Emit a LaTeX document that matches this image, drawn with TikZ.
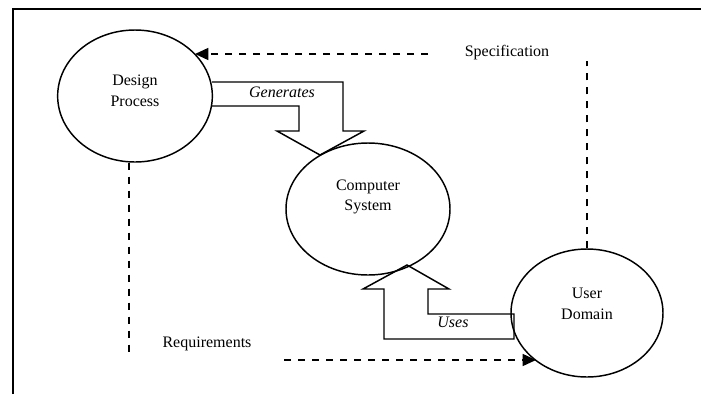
\documentclass[tikz,border=0pt]{standalone}
\usepackage{fontspec}
\setmainfont{Liberation Serif}
\usetikzlibrary{shapes.geometric,arrows.meta}
\begin{document}
\begin{tikzpicture}[x=0.75pt,y=-0.75pt,
  proc/.style={draw, ellipse, line width=1.1pt, inner sep=0pt},
  lbl/.style={align=center, font=\fontsize{12}{15.5}\selectfont, inner sep=0pt},
  tag/.style={lbl, font=\fontsize{12}{15.5}\selectfont\itshape},
  flow/.style={draw, line width=1.1pt, line join=miter},
  dep/.style={line width=1.1pt, dash pattern=on 5.5pt off 5pt},
  deparrow/.style={dep, -{Triangle[length=10pt,width=9pt]}}]
\useasboundingbox (0,0) rectangle (701,394);

% frame
\draw[line width=1.5pt] (13,394) -- (13,9) -- (701,9);

% the three domains
\node[proc, minimum width=116pt, minimum height=99pt] (design) at (135,96) {};
\node[proc, minimum width=123pt, minimum height=99pt] (computer) at (368,209) {};
\node[proc, minimum width=114pt, minimum height=96pt] (user) at (587,313) {};

\node[lbl] (designtxt) at (135,91) {Design\\Process};
\node[lbl] (computertxt) at (368,197) {Computer\\System};
\node[lbl] (usertxt) at (587,304) {User\\Domain};

% block arrows
\draw[flow] (212,82) -- (343,82) -- (343,131) -- (364,131) -- (320,155)
  -- (277,131) -- (299,131) -- (299,106) -- (212,106);
\node[tag] (gentxt) at (282,92) {Generates};

\draw[flow] (514,314) -- (428,314) -- (428,289) -- (449,289) -- (407,265)
  -- (363,289) -- (384,289) -- (384,339) -- (514,339) -- cycle;
\node[tag] (usestxt) at (453,322) {Uses};

% specification link
\node[lbl] (spectxt) at (507,53) {Specification};
\coordinate (specfoot) at (587,61);
\coordinate (specstart) at (428,54);
\coordinate (spectip) at (195,54);
\draw[dep] (user.north) -- (specfoot);
\draw[deparrow] (specstart) -- (spectip);

% requirements link
\node[lbl] (reqtxt) at (207,344) {Requirements};
\coordinate (reqfoot) at (129,352);
\coordinate (reqstart) at (284,360);
\coordinate (reqtip) at (536,360);
\draw[dep] (design.south -| reqfoot) -- (reqfoot);
\draw[deparrow] (reqstart) -- (reqtip);
\end{tikzpicture}
\end{document}
